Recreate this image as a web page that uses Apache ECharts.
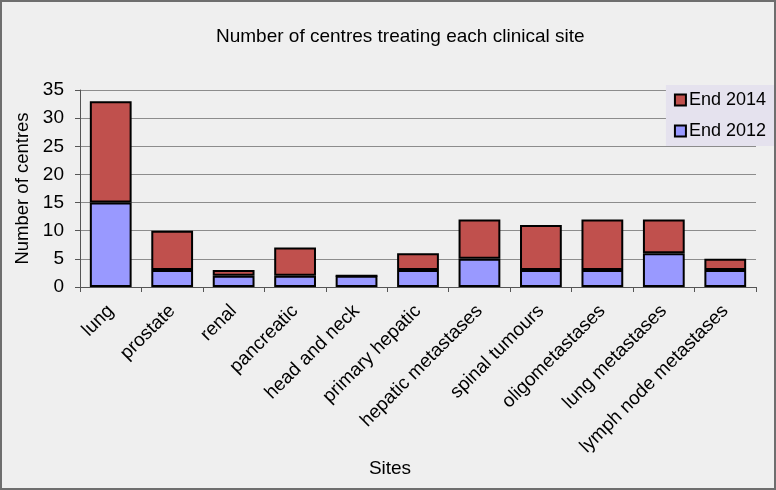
<!DOCTYPE html>
<html>
<head>
<meta charset="utf-8">
<script src="https://cdn.jsdelivr.net/npm/echarts@6/dist/echarts.min.js"></script>
<style>
html,body{margin:0;padding:0;background:#efefef;}
#c{width:776px;height:490px;}
</style>
</head>
<body>
<div id="c"></div>
<script>
const categories = ['lung','prostate','renal','pancreatic','head and neck','primary hepatic','hepatic metastases','spinal tumours','oligometastases','lung metastases','lymph node metastases'];
const end2012 = [15,3,2,2,2,3,5,3,3,6,3];
const end2014Added = [18,7,1,5,0,3,7,8,9,6,2];
const yTicks = [0,5,10,15,20,25,30,35];

const chart = echarts.init(document.getElementById('c'));
const font = 'Liberation Sans, Arial, sans-serif';
chart.setOption({
  backgroundColor: '#efefef',
  animation: false,
  textStyle: {fontFamily: font},
  graphic: [{
    type: 'rect', z: 100, silent: true,
    shape: {x: 1, y: 1, width: 774, height: 488},
    style: {fill: 'none', stroke: '#6e6e6e', lineWidth: 2}
  }],
  title: {
    text: 'Number of centres treating each clinical site',
    left: 211, top: 22,
    textStyle: {fontFamily: font, fontSize: 19, fontWeight: 'normal', color: '#000'}
  },
  legend: {
    orient: 'vertical', right: 2, top: 85,
    data: ['End 2014','End 2012'],
    backgroundColor: '#e5e2ee',
    padding: [6, 8, 6, 8],
    itemGap: 13,
    itemWidth: 11, itemHeight: 11,
    icon: 'rect',
    textStyle: {fontFamily: font, fontSize: 18, color: '#000', padding: [0,0,0,-2]}
  },
  grid: {left: 80, right: 20, top: 90, bottom: 203},
  xAxis: {
    type: 'category', data: categories,
    name: 'Sites', nameLocation: 'middle', nameGap: 171,
    nameTextStyle: {fontFamily: font, fontSize: 19, color: '#000', padding: [0, 56, 0, 0]},
    axisLine: {lineStyle: {color: '#555', width: 1}},
    axisTick: {show: true, alignWithLabel: false, length: 5, lineStyle: {color: '#555'}},
    axisLabel: {rotate: 45, fontSize: 19, color: '#000', fontFamily: font, margin: 21, interval: 0}
  },
  yAxis: {
    type: 'value', min: 0, max: 35, interval: 5,
    name: 'Number of centres', nameLocation: 'middle', nameGap: 44,
    nameTextStyle: {fontFamily: font, fontSize: 18.5, color: '#000'},
    axisLine: {show: true, lineStyle: {color: '#555'}},
    axisTick: {show: true, length: 5, lineStyle: {color: '#555'}},
    axisLabel: {fontSize: 19, color: '#000', fontFamily: font, margin: 16,
      formatter: v => yTicks.includes(v) ? String(v) : ''},
    splitLine: {lineStyle: {color: '#8c8c8c', width: 1}}
  },
  series: [
    {
      name: 'End 2012', type: 'bar', stack: 'tot', data: end2012,
      barWidth: '68%',
      itemStyle: {color: '#9999ff', borderColor: '#000', borderWidth: 2}
    },
    {
      name: 'End 2014', type: 'bar', stack: 'tot', data: end2014Added,
      barWidth: '68%',
      itemStyle: {color: '#c0504d', borderColor: '#000', borderWidth: 2}
    }
  ]
});
</script>
</body>
</html>
